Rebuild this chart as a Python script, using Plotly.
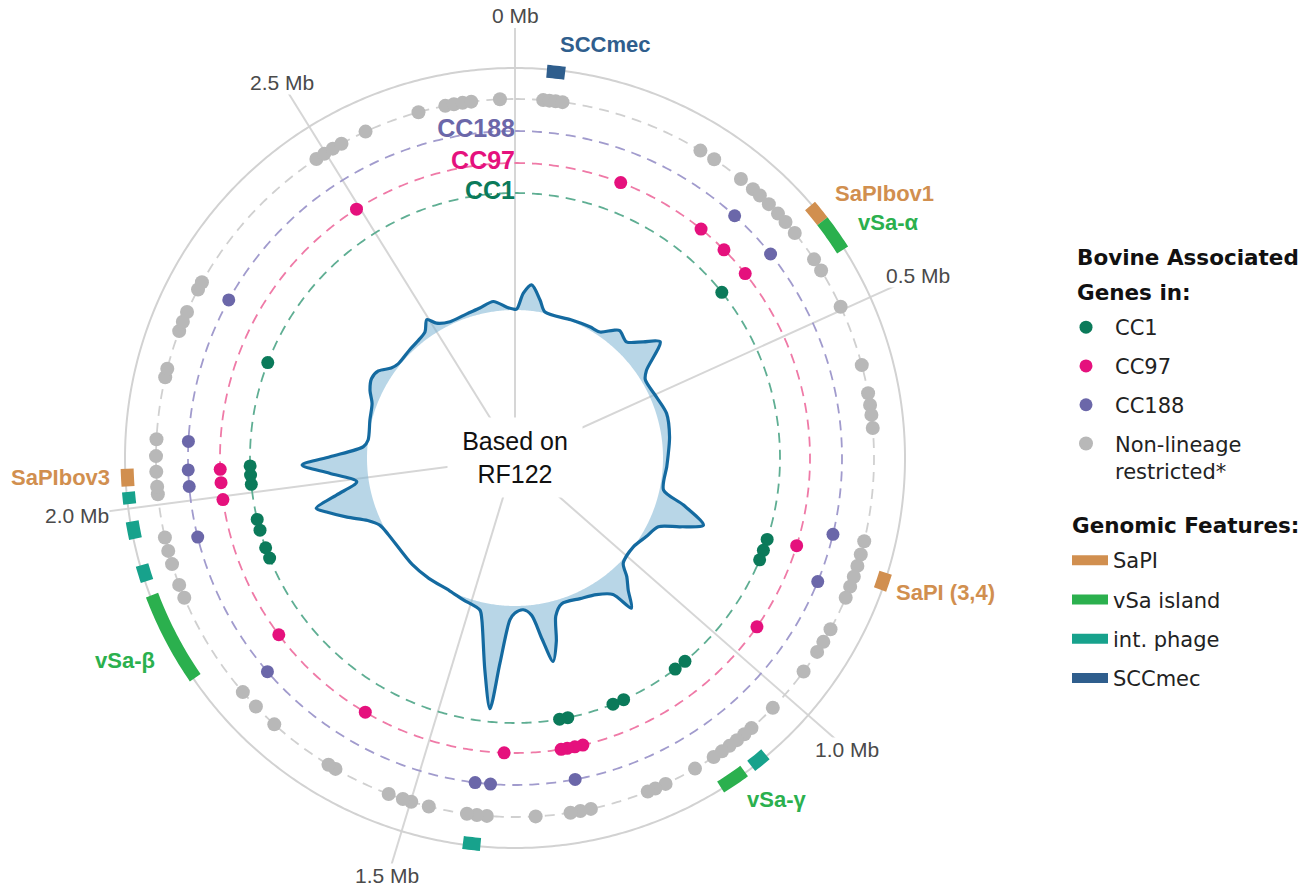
import numpy as np
import plotly.graph_objects as go

GENOME_MB = 2.7425  # RF122 chromosome length (Mb)

# Bovine-associated gene positions (Mb) per lineage
cc1_mb = [0.3908, 0.8220, 0.8410, 0.8578, 1.0673, 1.0879, 1.1869, 1.2059, 1.2837, 1.2974,
          1.8878, 1.9061, 1.9365, 1.9548, 2.0135, 2.0287, 2.0439, 2.2176]
cc97_mb = [0.1600, 0.2979, 0.3436, 0.3908, 0.8174, 0.9515, 1.2699, 1.2821, 1.2936, 1.3027,
           1.3873, 1.6036, 1.7765, 1.9952, 2.0203, 2.0401, 2.4949]
cc188_mb = [0.3215, 0.3916, 0.7885, 0.8548, 1.2905, 1.4040, 1.4246, 1.7461, 1.9502, 2.0188,
            2.0409, 2.0790, 2.2771]
nonlineage_mb = [0.0343, 0.0419, 0.0495, 0.0579, 0.2369, 0.2567, 0.2971, 0.3162, 0.3276, 0.3428,
                 0.3588, 0.3725, 0.3900, 0.4297, 0.4457, 0.4959, 0.5714, 0.6064, 0.6209, 0.6331,
                 0.6491, 0.7877, 0.8045, 0.8189, 0.8327, 0.8456, 0.8601, 0.9027, 0.9203, 0.9347,
                 0.9637, 1.0216, 1.0574, 1.0688, 1.0803, 1.0917, 1.1031, 1.1153, 1.1420, 1.1823,
                 1.1960, 1.2059, 1.2783, 1.2913, 1.3035, 1.3461, 1.4055, 1.4177, 1.4299, 1.4771,
                 1.4992, 1.5099, 1.5282, 1.5998, 1.6097, 1.6920, 1.7232, 1.7468, 1.8824, 1.8992,
                 1.9259, 1.9426, 1.9594, 2.0127, 2.0218, 2.0401, 2.0592, 2.0797, 2.1559, 2.1666,
                 2.2146, 2.2268, 2.2397, 2.2702, 2.2801, 2.4866, 2.4980, 2.5102, 2.5223, 2.5551,
                 2.6237, 2.6572, 2.6678, 2.6785, 2.6892, 2.7242]

# Genomic features (Mb)
feature_names = ["SCCmec", "SaPIbov1", "vSa-α", "SaPI (3,4)", "int. phage", "vSa-γ",
                 "int. phage", "vSa-β", "int. phage", "int. phage", "int. phage", "SaPIbov3"]
feature_types = ["SCCmec", "SaPI", "vSa island", "SaPI", "int. phage", "vSa island",
                 "int. phage", "vSa island", "int. phage", "int. phage", "int. phage", "SaPI"]
feature_start_mb = [0.0358, 0.3771, 0.3992, 0.8167, 1.0650, 1.0955,
                    1.4101, 1.7941, 1.9160, 1.9655, 2.0051, 2.0249]
feature_end_mb = [0.0564, 0.3992, 0.4388, 0.8365, 1.0856, 1.1275,
                  1.4299, 1.8992, 1.9350, 1.9853, 2.0188, 2.0447]

# Relative density of bovine-associated genes along the chromosome
density_mb = [0.0053, 0.0221, 0.0419, 0.0686, 0.0884, 0.1676, 0.2263, 0.2590, 0.2857, 0.3002,
              0.3337, 0.3641, 0.3908, 0.4289, 0.4495, 0.5074, 0.5607, 0.6262, 0.6818, 0.7108,
              0.7786, 0.8045, 0.8349, 0.8578, 0.8806, 0.9210, 0.9667, 1.0224, 1.0414, 1.0620,
              1.0833, 1.0993, 1.1366, 1.1816, 1.2356, 1.2608, 1.2745, 1.2905, 1.3065, 1.3256,
              1.3476, 1.3713, 1.3850, 1.4033, 1.4147, 1.4330, 1.4596, 1.4703, 1.5236, 1.5709,
              1.6425, 1.7065, 1.8200, 1.8558, 1.8817, 1.9091, 1.9350, 1.9487, 1.9677, 1.9921,
              2.0211, 2.0424, 2.0600, 2.0896, 2.1102, 2.1689, 2.2161, 2.2473, 2.2778, 2.3045,
              2.3311, 2.3540, 2.4058, 2.4378, 2.4721, 2.4949, 2.5124, 2.5483, 2.6016, 2.6420,
              2.6824, 2.7189, 2.7372]
density_val = [0.01, 0.17, 0.26, 0.12, 0.01, 0.01, 0.03, 0.04, 0.13, 0.17,
               0.13, 0.25, 0.38, 0.10, 0.04, 0.06, 0.10, 0.08, 0.05, 0.04,
               0.04, 0.27, 0.52, 0.31, 0.11, 0.05, 0.00, 0.03, 0.15, 0.26,
               0.42, 0.20, 0.11, 0.07, 0.05, 0.15, 0.40, 0.59, 0.35, 0.10,
               0.04, 0.07, 0.14, 0.58, 1.04, 0.66, 0.17, 0.08, 0.03, 0.00,
               0.00, 0.00, 0.00, 0.03, 0.12, 0.30, 0.48, 0.57, 0.34, 0.12,
               0.38, 0.65, 0.37, 0.04, 0.00, 0.02, 0.05, 0.12, 0.16, 0.14,
               0.05, 0.02, 0.03, 0.04, 0.07, 0.16, 0.08, 0.03, 0.04, 0.06,
               0.10, 0.03, 0.01]

tick_mb = [0.0, 0.5, 1.0, 1.5, 2.0, 2.5]
tick_labels = ["0 Mb", "0.5 Mb", "1.0 Mb", "1.5 Mb", "2.0 Mb", "2.5 Mb"]

# ---- layout constants (radial units are pixels) ----
W, H = 1298, 890
CX, CY = 515, 458          # centre of the circular plot
R_PANEL = 430              # extent of the angular grid lines
R_TICKLABEL = 442
R_OUTER = 390              # chromosome circle
R_GREY, R_CC188, R_CC97, R_CC1 = 359, 327, 295, 265
R_BASE = 148               # density baseline
DENSITY_SCALE = 100
R_FEATURE, FEATURE_W = 388, 13

LABEL_FONT = "Liberation Sans, Arial, sans-serif"
LEGEND_FONT = "DejaVu Sans, Verdana, sans-serif"

C_CC1, C_CC97, C_CC188, C_GREY = "#0b7a5a", "#e5117d", "#6b67a9", "#b8b8b8"
RING_CC1, RING_CC97, RING_CC188, RING_GREY = "#5fae93", "#ef7aa7", "#a19bcd", "#d0d0d0"
FEATURE_COLORS = {"SaPI": "#d18f4f", "vSa island": "#2bb04e",
                  "int. phage": "#17a28c", "SCCmec": "#2f5e8d"}


def to_deg(mb):
    return np.asarray(mb, dtype=float) / GENOME_MB * 360.0


def polar_to_px(theta_deg, radius):
    a = np.deg2rad(theta_deg)
    return CX + radius * np.sin(a), CY - radius * np.cos(a)


fig = go.Figure()

circle_theta = np.linspace(0, 360, 721)


def ring(radius, color, dash, width):
    fig.add_trace(go.Scatterpolar(
        r=np.full(circle_theta.size, radius), theta=circle_theta, mode="lines",
        line=dict(color=color, width=width, dash=dash),
        showlegend=False, hoverinfo="skip"))


# chromosome circle and dashed lineage rings
ring(R_OUTER, "#d2d2d2", "solid", 2)
ring(R_GREY, RING_GREY, "10px,7px", 1.8)
ring(R_CC188, RING_CC188, "10px,7px", 1.8)
ring(R_CC97, RING_CC97, "10px,7px", 1.8)
ring(R_CC1, RING_CC1, "10px,7px", 1.8)

# density: baseline circle, then curve filled back to it
fig.add_trace(go.Scatterpolar(
    r=np.full(circle_theta.size, R_BASE), theta=circle_theta, mode="lines",
    line=dict(color="rgba(0,0,0,0)", width=0), showlegend=False, hoverinfo="skip"))
dens_theta = np.append(to_deg(density_mb), to_deg(density_mb[0]) + 360)
dens_r = R_BASE + DENSITY_SCALE * np.append(density_val, density_val[0])
fig.add_trace(go.Scatterpolar(
    r=dens_r, theta=dens_theta, mode="lines",
    line=dict(color="#146aa0", width=3.2, shape="spline", smoothing=0.8),
    fill="tonext", fillcolor="rgba(125,180,212,0.55)",
    showlegend=False, hoverinfo="skip"))

# genomic features as thick arcs on the chromosome circle
for rank, ftype in enumerate(["SaPI", "vSa island", "int. phage", "SCCmec"]):
    thetas, radii = [], []
    for i, t in enumerate(feature_types):
        if t != ftype:
            continue
        a0, a1 = to_deg(feature_start_mb[i]), to_deg(feature_end_mb[i])
        n = int(np.ceil((a1 - a0) / 0.5)) + 1
        arc = np.linspace(a0, a1, max(n, 2))
        thetas += list(arc) + [None]
        radii += [R_FEATURE] * len(arc) + [None]
    fig.add_trace(go.Scatterpolar(
        r=radii, theta=thetas, mode="lines",
        line=dict(color=FEATURE_COLORS[ftype], width=FEATURE_W),
        connectgaps=False, name=ftype, legend="legend2", legendgroup=ftype,
        legendrank=rank + 1, hoverinfo="skip"))

# gene points
point_sets = [
    ("Non-lineage<br>restricted*", nonlineage_mb, R_GREY, C_GREY, 14, 4),
    ("CC188", cc188_mb, R_CC188, C_CC188, 13, 3),
    ("CC97", cc97_mb, R_CC97, C_CC97, 13, 2),
    ("CC1", cc1_mb, R_CC1, C_CC1, 13, 1),
]
for name, pos, rad, col, size, rank in point_sets:
    fig.add_trace(go.Scatterpolar(
        r=[rad] * len(pos), theta=to_deg(pos), mode="markers",
        marker=dict(color=col, size=size, line=dict(width=0)),
        name=name, legend="legend", legendgroup=name, legendrank=rank, hoverinfo="skip"))

# ring names next to the 0 Mb line
fig.add_trace(go.Scatterpolar(
    r=[R_CC188, R_CC97, R_CC1], theta=[0, 0, 0], mode="text",
    text=["CC188", "CC97", "CC1"], textposition="middle left",
    textfont=dict(family=LABEL_FONT, size=25, color=[C_CC188, C_CC97, C_CC1], weight="bold"),
    showlegend=False, hoverinfo="skip", cliponaxis=False))

annotations = []

# feature names placed just outside the chromosome circle
feature_labels = [
    ("SCCmec", 12.3, 423, FEATURE_COLORS["SCCmec"]),
    ("SaPIbov1", 54.4, 455, FEATURE_COLORS["SaPI"]),
    ("vSa-α", 57.7, 441, FEATURE_COLORS["vSa island"]),
    ("SaPI (3,4)", 107.3, 451, FEATURE_COLORS["SaPI"]),
    ("vSa-γ", 142.6, 430, FEATURE_COLORS["vSa island"]),
    ("vSa-β", 242.6, 439, FEATURE_COLORS["vSa island"]),
    ("SaPIbov3", 267.5, 455, FEATURE_COLORS["SaPI"]),
]
for txt, th, rad, col in feature_labels:
    px, py = polar_to_px(th, rad)
    annotations.append(dict(
        text="<b>" + txt + "</b>", x=px / W, y=1 - py / H, xref="paper", yref="paper",
        xanchor="center", yanchor="middle", showarrow=False,
        font=dict(family=LABEL_FONT, size=22, color=col)))

# angular tick labels, centred just outside the grid lines (kept inside the page)
for mb, lab in zip(tick_mb, tick_labels):
    px, py = polar_to_px(to_deg(mb), R_TICKLABEL)
    py = min(max(py, 14), H - 15)
    annotations.append(dict(
        text=lab, x=px / W, y=1 - py / H, xref="paper", yref="paper",
        xanchor="center", yanchor="middle", showarrow=False,
        bgcolor="white", borderpad=0,
        font=dict(family=LABEL_FONT, size=21, color="#4a4a4a")))

annotations.append(dict(
    text="Based on<br>RF122", x=CX / W, y=1 - CY / H, xref="paper", yref="paper",
    showarrow=False, bgcolor="white", width=132, height=77,
    font=dict(family=LABEL_FONT, size=25, color="#111111")))

# legend headings
for txt, ypx, xpx in [("Bovine Associated", 258, 1075), ("Genes in:", 292, 1075),
                      ("Genomic Features:", 525, 1070)]:
    annotations.append(dict(
        text="<b>" + txt + "</b>", x=xpx / W, y=1 - ypx / H, xref="paper", yref="paper",
        xanchor="left", yanchor="middle", showarrow=False,
        font=dict(family=LEGEND_FONT, size=21.5, color="#111111")))

fig.update_layout(
    width=W, height=H, margin=dict(l=0, r=0, t=0, b=0),
    paper_bgcolor="white", plot_bgcolor="white",
    polar=dict(
        domain=dict(x=[(CX - R_PANEL) / W, (CX + R_PANEL) / W],
                    y=[(H - CY - R_PANEL) / H, (H - CY + R_PANEL) / H]),
        bgcolor="white",
        radialaxis=dict(range=[0, R_PANEL], visible=False),
        angularaxis=dict(
            rotation=90, direction="clockwise", thetaunit="degrees",
            tickmode="array", tickvals=to_deg(tick_mb), ticktext=tick_labels,
            showgrid=True, gridcolor="#d6d6d6", gridwidth=1.5,
            showline=False, ticks="", showticklabels=False),
    ),
    legend=dict(
        x=1057 / W, y=1 - 307 / H, xanchor="left", yanchor="top",
        font=dict(family=LEGEND_FONT, size=21, color="#222222"), itemwidth=48,
        traceorder="grouped", tracegroupgap=8.5, valign="top", bgcolor="rgba(0,0,0,0)"),
    legend2=dict(
        x=1067 / W, y=1 - 540 / H, xanchor="left", yanchor="top",
        font=dict(family=LEGEND_FONT, size=21, color="#222222"), itemwidth=36,
        traceorder="grouped", tracegroupgap=9, bgcolor="rgba(0,0,0,0)"),
    annotations=annotations,
)

fig.write_html("out.html")
